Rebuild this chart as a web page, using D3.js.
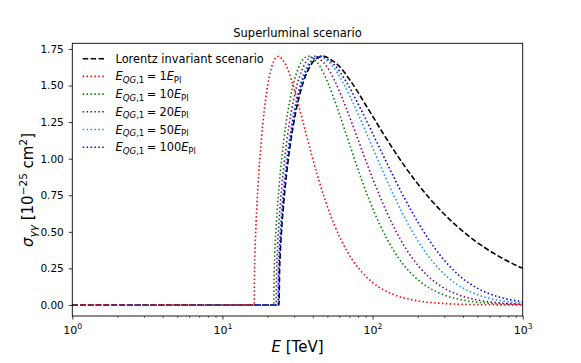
<!DOCTYPE html>
<html>
<head>
<meta charset="utf-8">
<script src="https://cdn.jsdelivr.net/npm/d3@7"></script>
<style>
  body { margin: 0; background: #fff; }
  text { font-family: "DejaVu Sans", sans-serif; fill: #000; }
</style>
</head>
<body>
<script>
// values (E in TeV, sigma in 1e-25 cm^2)
var energyLI = [1, 23.8, 24.04, 24.28, 24.99, 26.18, 28.56, 33.32, 38.08, 42.84, 47.6, 52.36, 59.5, 71.4, 95.2, 119, 142.8, 190.4, 238, 357, 476, 714, 952, 1000];
var sigmaLI  = [0, 0, 0.2506, 0.3558, 0.5673, 0.8059, 1.1226, 1.4688, 1.6258, 1.6882, 1.7002, 1.6790, 1.6358, 1.5305, 1.3268, 1.1643, 1.0377, 0.8563, 0.7331, 0.5474, 0.4422, 0.3252, 0.2604, 0.2506];

var energyQG1 = [1, 16.27, 16.37, 16.47, 16.76, 17.23, 18.14, 19.79, 21.27, 22.62, 23.86, 25.01, 26.60, 28.96, 32.91, 36.19, 39.01, 43.78, 47.75, 55.66, 61.89, 71.63, 79.33, 91.45, 109.1, 138.3, 188.5, 238.0, 300.2, 407.9, 647.9, 1000];
var sigmaQG1  = [0, 0, 0.2506, 0.3558, 0.5673, 0.8059, 1.1226, 1.4688, 1.6258, 1.6882, 1.7002, 1.6790, 1.6358, 1.5305, 1.3268, 1.1643, 1.0377, 0.8563, 0.7331, 0.5474, 0.4422, 0.3252, 0.2604, 0.1894, 0.1258, 0.0713, 0.0330, 0.0182, 0.0100, 0.0044, 0.0013, 0.0004];

var energyQG10 = [1, 21.95, 22.15, 22.33, 22.90, 23.82, 25.62, 29.04, 32.23, 35.22, 38.01, 40.64, 44.31, 49.82, 59.11, 66.84, 73.48, 84.60, 93.80, 111.9, 126.1, 148.0, 165.1, 192.0, 230.8, 294.5, 403.7, 510.8, 645.2, 877.7, 1000];
var sigmaQG10  = [0, 0, 0.2506, 0.3558, 0.5673, 0.8059, 1.1226, 1.4688, 1.6258, 1.6882, 1.7002, 1.6790, 1.6358, 1.5305, 1.3268, 1.1643, 1.0377, 0.8563, 0.7331, 0.5474, 0.4422, 0.3252, 0.2604, 0.1894, 0.1258, 0.0713, 0.0330, 0.0182, 0.0100, 0.0044, 0.0031];

var energyQG20 = [1, 22.77, 22.98, 23.19, 23.81, 24.84, 26.87, 30.78, 34.50, 38.03, 41.40, 44.61, 49.14, 56.04, 67.87, 77.82, 86.41, 100.8, 112.8, 136.2, 154.4, 182.5, 204.5, 238.8, 288.2, 369.0, 507.0, 642.2, 812.0, 1000];
var sigmaQG20  = [0, 0, 0.2506, 0.3558, 0.5673, 0.8059, 1.1226, 1.4688, 1.6258, 1.6882, 1.7002, 1.6790, 1.6358, 1.5305, 1.3268, 1.1643, 1.0377, 0.8563, 0.7331, 0.5474, 0.4422, 0.3252, 0.2604, 0.1894, 0.1258, 0.0713, 0.0330, 0.0182, 0.0100, 0.0058];

var energyQG50 = [1, 23.35, 23.58, 23.80, 24.48, 25.59, 27.81, 32.15, 36.39, 40.51, 44.52, 48.39, 53.99, 62.75, 78.36, 91.88, 103.8, 123.9, 140.7, 173.7, 199.3, 238.7, 269.3, 316.8, 385.0, 495.9, 684.6, 868.9, 1000];
var sigmaQG50  = [0, 0, 0.2506, 0.3558, 0.5673, 0.8059, 1.1226, 1.4688, 1.6258, 1.6882, 1.7002, 1.6790, 1.6358, 1.5305, 1.3268, 1.1643, 1.0377, 0.8563, 0.7331, 0.5474, 0.4422, 0.3252, 0.2604, 0.1894, 0.1258, 0.0713, 0.0330, 0.0182, 0.0127];

var energyQG100 = [1, 23.57, 23.80, 24.03, 24.73, 25.88, 28.17, 32.71, 37.18, 41.58, 45.91, 50.16, 56.37, 66.31, 84.60, 101.0, 115.7, 141.2, 162.7, 205.5, 238.6, 289.6, 329.1, 390.1, 477.5, 618.9, 858.1, 1000];
var sigmaQG100  = [0, 0, 0.2506, 0.3558, 0.5673, 0.8059, 1.1226, 1.4688, 1.6258, 1.6882, 1.7002, 1.6790, 1.6358, 1.5305, 1.3268, 1.1643, 1.0377, 0.8563, 0.7331, 0.5474, 0.4422, 0.3252, 0.2604, 0.1894, 0.1258, 0.0713, 0.0330, 0.0226];

var qgFactors = ["1", "10", "20", "50", "100"];
var yTicks = [0, 0.25, 0.5, 0.75, 1.0, 1.25, 1.5, 1.75];
var xDecades = [1, 10, 100, 1000];

var W = 581, H = 363;
var pLeft = 72.3, pRight = 522.7, pTop = 43.3, pBottom = 316;

var svg = d3.select("body").append("svg")
	.attr("width", W)
	.attr("height", H);

var x = d3.scaleLog().domain([1, 1000]).range([pLeft, pRight]);
var y = d3.scaleLinear().domain([-0.0752, 1.7887]).range([pBottom, pTop]);

// legend order; "z" = drawing order (red ends up on top along the zero line)
var series = [
	{e: energyLI,    s: sigmaLI,    color: "#000000", dash: "5.5,2.4", z: 0},
	{e: energyQG1,   s: sigmaQG1,   color: "#ff0000", dash: "1.5,2.4", z: 5},
	{e: energyQG10,  s: sigmaQG10,  color: "#008000", dash: "1.5,2.4", z: 1},
	{e: energyQG20,  s: sigmaQG20,  color: "#800080", dash: "1.5,2.4", z: 2},
	{e: energyQG50,  s: sigmaQG50,  color: "#1e90ff", dash: "1.5,2.4", z: 3},
	{e: energyQG100, s: sigmaQG100, color: "#0000ff", dash: "1.5,2.4", z: 4}
];

svg.append("clipPath").attr("id", "clip")
	.append("rect")
	.attr("x", pLeft).attr("y", pTop)
	.attr("width", pRight - pLeft).attr("height", pBottom - pTop);

var line = d3.line()
	.x(function(d){ return x(d[0]); })
	.y(function(d){ return y(d[1]); })
	.curve(d3.curveMonotoneX);

var curves = svg.append("g").attr("clip-path", "url(#clip)");
series.slice().sort(function(a, b){ return a.z - b.z; }).forEach(function(sr){
	var pts = sr.e.map(function(v, i){ return [v, sr.s[i]]; });
	curves.append("path")
		.attr("d", line(pts))
		.style("fill", "none")
		.style("stroke", sr.color)
		.style("stroke-width", 1.6)
		.style("stroke-dasharray", sr.dash);
});

// x axis: major + minor ticks
var minor = [];
[1, 10, 100].forEach(function(dec){
	for (var k = 2; k <= 9; k++) minor.push(dec * k);
});

var gx = svg.append("g").attr("transform", `translate(0, ${pBottom})`)
	.call(d3.axisBottom(x).tickValues(xDecades).tickSize(3.5).tickFormat(""));
gx.select(".domain").remove();
gx.selectAll(".tick line").attr("stroke", "#000").attr("stroke-width", 0.8);

gx.selectAll(".tick").append("text")
	.attr("y", 17.5)
	.attr("text-anchor", "middle")
	.style("font-size", "11px")
	.each(function(d){
		var t = d3.select(this);
		t.append("tspan").text("10");
		t.append("tspan").attr("dy", -5).style("font-size", "7.7px").text(String(Math.round(Math.log10(d))));
	});

var gxm = svg.append("g").attr("transform", `translate(0, ${pBottom})`)
	.call(d3.axisBottom(x).tickValues(minor).tickSize(2).tickFormat(""));
gxm.select(".domain").remove();
gxm.selectAll(".tick line").attr("stroke", "#000").attr("stroke-width", 0.6);

// y axis
var gy = svg.append("g").attr("transform", `translate(${pLeft}, 0)`)
	.call(d3.axisLeft(y).tickValues(yTicks).tickSize(3.5).tickPadding(5).tickFormat(d3.format(".2f")));
gy.select(".domain").remove();
gy.selectAll(".tick line").attr("stroke", "#000").attr("stroke-width", 0.8);
gy.selectAll(".tick text").style("font-size", "10.5px").style("font-family", "DejaVu Sans");

// frame
svg.append("rect")
	.attr("x", pLeft).attr("y", pTop)
	.attr("width", pRight - pLeft).attr("height", pBottom - pTop)
	.style("fill", "none").style("stroke", "#000").style("stroke-width", 0.9);

// title
svg.append("text")
	.attr("x", (pLeft + pRight) / 2).attr("y", 37)
	.attr("text-anchor", "middle")
	.style("font-size", "11.5px")
	.text("Superluminal scenario");

// x label
var xl = svg.append("text")
	.attr("x", (pLeft + pRight) / 2).attr("y", 352)
	.attr("text-anchor", "middle")
	.style("font-size", "15px");
xl.append("tspan").style("font-style", "italic").text("E");
xl.append("tspan").text(" [TeV]");

// y label
var yl = svg.append("text")
	.attr("transform", "translate(33, 190) rotate(-90)")
	.attr("text-anchor", "middle")
	.style("font-size", "15px");
yl.append("tspan").style("font-style", "italic").text("σ");
yl.append("tspan").attr("dy", 3.5).style("font-size", "10.5px").style("font-style", "italic").text("γγ");
yl.append("tspan").attr("dy", -3.5).text(" [10");
yl.append("tspan").attr("dy", -6).style("font-size", "10.5px").text("−25");
yl.append("tspan").attr("dy", 6).text(" cm");
yl.append("tspan").attr("dy", -6).style("font-size", "10.5px").text("2");
yl.append("tspan").attr("dy", 6).text("]");

// legend
var legendY0 = 58.7, legendStep = 17.7;
var legend = svg.append("g");
series.forEach(function(sr, i){
	var ly = legendY0 + i * legendStep;
	legend.append("line")
		.attr("x1", 82.7).attr("x2", 105)
		.attr("y1", ly).attr("y2", ly)
		.style("stroke", sr.color)
		.style("stroke-width", 1.6)
		.style("stroke-dasharray", sr.dash);
	var t = legend.append("text")
		.attr("x", 115.5).attr("y", ly + 4)
		.style("font-size", "11.4px");
	if (i === 0) {
		t.text("Lorentz invariant scenario");
	} else {
		t.append("tspan").style("font-style", "italic").text("E");
		t.append("tspan").attr("dy", 2.5).style("font-size", "8.6px").style("font-style", "italic").text("QG");
		t.append("tspan").style("font-size", "8.6px").text(",1");
		t.append("tspan").attr("dy", -2.5).attr("dx", 2.5).text("=");
		t.append("tspan").attr("dx", 3).text(qgFactors[i - 1]);
		t.append("tspan").style("font-style", "italic").text("E");
		t.append("tspan").attr("dy", 2.5).style("font-size", "8.6px").text("Pl");
	}
});
</script>
</body>
</html>
